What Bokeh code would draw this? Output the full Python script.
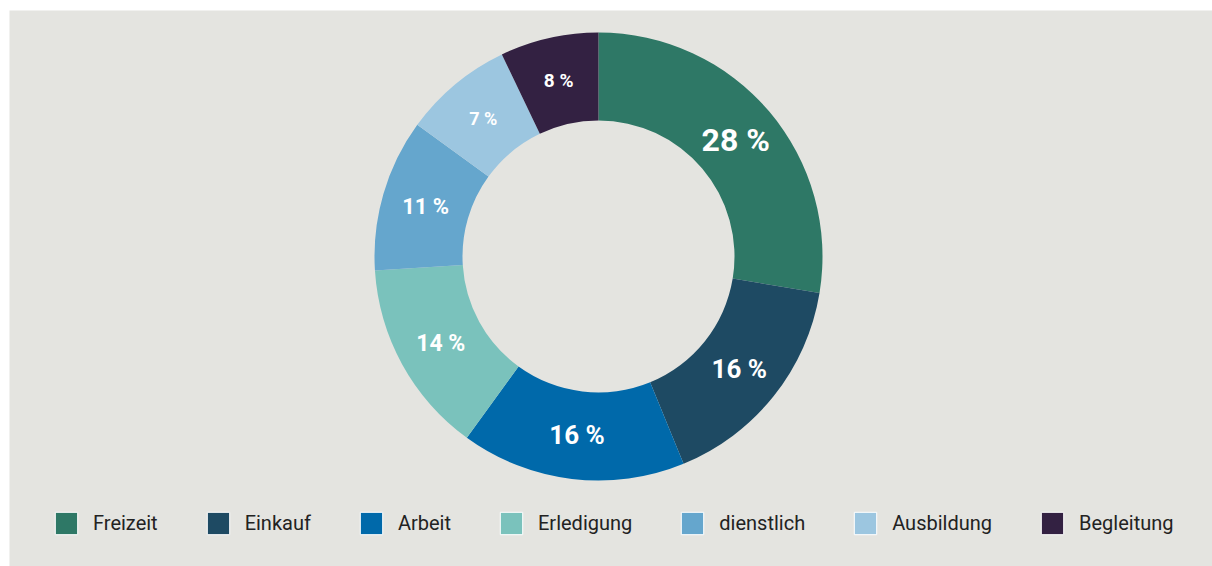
import numpy as np
from bokeh.plotting import figure
from bokeh.models import ColumnDataSource, Range1d, Legend, LegendItem
from bokeh.core.properties import value
from bokeh.embed import file_html
from bokeh.resources import INLINE

# ---- data ----
categories = ["Freizeit", "Einkauf", "Arbeit", "Erledigung", "dienstlich", "Ausbildung", "Begleitung"]
shares = [27.6, 16.2, 16.2, 14.0, 11.0, 7.9, 7.1]
share_labels = ["28 %", "16 %", "16 %", "14 %", "11 %", "7 %", "8 %"]

# ---- styles ----
colors = ["#2e7866", "#1e4a63", "#0069aa", "#7ac2bc", "#65a6cd", "#9cc6e0", "#332142"]
label_sizes = ["32px", "26px", "26px", "23px", "22px", "18px", "19px"]
BG = "#e4e4e0"
W, H = 1212, 566
LEFT, TOP = 9, 10
FW, FH = W - LEFT, H - TOP
cx, cy = 598 - LEFT, H - 256
r_in, r_out = 136, 224
r_lab = 180

frac = np.array(shares) / sum(shares)
cum = np.concatenate([[0.0], np.cumsum(frac)])
start = np.pi / 2 - 2 * np.pi * cum[:-1]
end = np.pi / 2 - 2 * np.pi * cum[1:]
mid = (start + end) / 2

src = ColumnDataSource(dict(
    cat=categories, start=start, end=end, color=colors,
    lx=cx + r_lab * np.cos(mid), ly=cy + r_lab * np.sin(mid),
    label=share_labels, size=label_sizes,
))

p = figure(width=W, height=H, output_backend="svg", toolbar_location=None,
           x_range=Range1d(0, FW), y_range=Range1d(0, FH),
           min_border_left=LEFT, min_border_top=TOP, min_border_right=0, min_border_bottom=0)
p.background_fill_color = BG
p.border_fill_color = "white"
p.outline_line_color = None
p.axis.visible = False
p.grid.visible = False

p.annular_wedge(x=cx, y=cy, inner_radius=r_in, outer_radius=r_out,
                start_angle="start", end_angle="end", direction="clock",
                fill_color="color", line_color=None, source=src)

p.text(x="lx", y="ly", text="label", text_font=value("Roboto"),
       text_font_style="bold", text_font_size="size", text_color="white",
       text_align="center", text_baseline="middle", source=src)

leg_r = p.quad(left=0, right=0, top=0, bottom=0, fill_color="color",
               line_color="white", line_width=1, source=src, visible=False)

items = [LegendItem(label=c, renderers=[leg_r], index=i) for i, c in enumerate(categories)]
legend = Legend(items=items, orientation="horizontal", location=(43, 29),
                glyph_width=28, glyph_height=28, label_standoff=13, spacing=46,
                padding=0, margin=0, background_fill_alpha=0, border_line_color=None,
                label_text_font="Roboto", label_text_font_size="20px",
                label_text_color="#222222")
p.add_layout(legend)

open("out.html", "w").write(file_html(p, INLINE))
